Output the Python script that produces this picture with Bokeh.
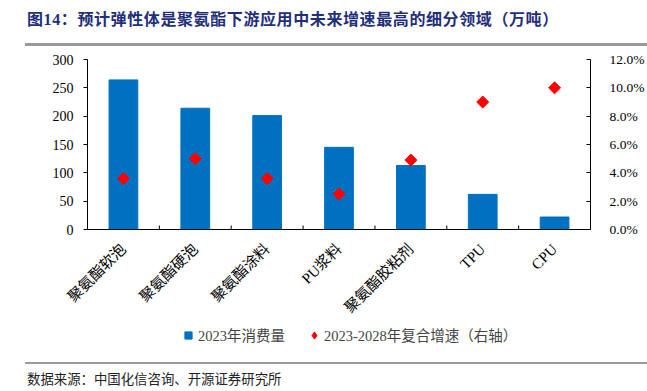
import math
from bokeh.plotting import figure
from bokeh.models import (Range1d, FactorRange, LinearAxis, Legend, LegendItem, Div,
                          PrintfTickFormatter, FixedTicker)
from bokeh.layouts import column
from bokeh.embed import file_html
from bokeh.resources import INLINE

# ---- data ----
categories = ["聚氨酯软泡", "聚氨酯硬泡", "聚氨酯涂料", "PU浆料", "聚氨酯胶粘剂", "TPU", "CPU"]
consumption_2023 = [264, 214, 201, 145, 113, 62, 22]          # 万吨
cagr_2023_2028 = [3.6, 5.0, 3.6, 2.5, 4.9, 9.0, 10.0]        # %
left_ticks = [0, 50, 100, 150, 200, 250, 300]
right_ticks = [0, 2, 4, 6, 8, 10, 12]
series_names = ["2023年消费量", "2023-2028年复合增速（右轴）"]
title_text = "图14：预计弹性体是聚氨酯下游应用中未来增速最高的细分领域（万吨）"
source_text = "数据来源：中国化信咨询、开源证券研究所"

SERIF = "'Times New Roman', 'Liberation Serif', 'Noto Sans CJK SC', serif"
BLUE = "#0070C0"
RED = "#FF0000"

W = 647
FRAME_H = 170
Y_MAX = 300
LEFT = 87

p = figure(width=W, height=288,
           x_range=FactorRange(*categories, range_padding=0, factor_padding=0),
           y_range=Range1d(0, Y_MAX),
           output_backend="svg", toolbar_location=None, title=None,
           min_border_left=LEFT, min_border_right=54, min_border_top=13, min_border_bottom=105,
           margin=0)
p.extra_y_ranges = {"pct": Range1d(0, 12)}
p.outline_line_color = None
p.xgrid.visible = False
p.ygrid.visible = False
p.background_fill_color = "white"
p.border_fill_color = "white"

p.vbar(x=categories, top=consumption_2023, width=0.4, fill_color=BLUE, line_color=BLUE)
p.scatter(x=categories, y=cagr_2023_2028, marker="square", angle=math.pi / 4, size=8.5,
          fill_color=RED, line_color=RED, y_range_name="pct")

# category boundary ticks (pointing up into the plot)
n = len(categories)
bounds = list(range(1, n))
tick_len = Y_MAX * 4 / FRAME_H
p.segment(x0=bounds, y0=[0] * len(bounds), x1=bounds, y1=[tick_len] * len(bounds),
          line_color="black", line_width=1)

# x axis
xa = p.xaxis[0]
xa.axis_line_color = "black"
xa.major_tick_in = 0
xa.major_tick_out = 0
xa.major_label_orientation = math.pi / 4
xa.major_label_standoff = 17
xa.major_label_text_font = SERIF
xa.major_label_text_font_size = "15px"
xa.major_label_text_color = "black"

# left axis
ya = p.yaxis[0]
ya.ticker = FixedTicker(ticks=left_ticks)
ya.axis_line_color = "black"
ya.major_tick_out = 4
ya.major_tick_in = 0
ya.minor_tick_line_color = None
ya.major_label_standoff = 10
ya.major_label_text_font = SERIF
ya.major_label_text_font_size = "14px"
ya.major_label_text_color = "black"

# right axis
ra = LinearAxis(y_range_name="pct", ticker=FixedTicker(ticks=right_ticks),
                formatter=PrintfTickFormatter(format="%.1f%%"))
ra.axis_line_color = "black"
ra.major_tick_in = 4
ra.major_tick_out = 0
ra.minor_tick_line_color = None
ra.major_label_standoff = 19
ra.major_label_text_font = SERIF
ra.major_label_text_font_size = "13.5px"
ra.major_label_text_color = "black"
p.add_layout(ra, "right")

# ---- legend strip (own small figure so the legend is not clipped) ----
# its frame is aligned with the main plot's frame by the column layout
lf = figure(width=W, height=22, x_range=Range1d(0, 1), y_range=Range1d(0, 1),
            output_backend="svg", toolbar_location=None, title=None,
            x_axis_location=None, y_axis_location=None,
            min_border_left=LEFT, min_border_right=54, min_border_top=0, min_border_bottom=0,
            margin=(-8, 0, 0, 0))
lf.outline_line_color = None
lf.xgrid.visible = False
lf.ygrid.visible = False
lf.background_fill_alpha = 0
lf.border_fill_alpha = 0
# legend-key renderers: one point each, placed outside the visible range
leg_sq = lf.scatter(x=[-5], y=[-5], marker="square", fill_color=BLUE, line_color=BLUE)
leg_dm = lf.scatter(x=[-5], y=[-5], marker="diamond", fill_color=RED, line_color=RED)
legend = Legend(items=[LegendItem(label=series_names[0], renderers=[leg_sq]),
                       LegendItem(label=series_names[1], renderers=[leg_dm])],
                location=(179 - LEFT, 3), orientation="horizontal",
                glyph_width=18, glyph_height=18, label_standoff=1, spacing=20,
                padding=0, margin=0, border_line_color=None, background_fill_alpha=0,
                label_text_font=SERIF, label_text_font_size="14.5px", label_height=18)
lf.add_layout(legend)

title_html = (
    '<div style="position:relative;width:647px;height:46px;">'
    '<div style="position:absolute;left:27px;top:10px;white-space:nowrap;'
    "font-family:'Times New Roman','Liberation Serif','Noto Sans CJK SC',serif;"
    'font-weight:bold;font-size:16px;line-height:20px;letter-spacing:0.6px;color:#1F2F7A;">'
    f'{title_text}</div>'
    '<div style="position:absolute;left:25px;top:43px;width:622px;height:3px;background:#9A9A9A;"></div>'
    '</div>')
footer_html = (
    '<div style="position:relative;width:647px;height:43px;">'
    '<div style="position:absolute;left:25px;top:14px;width:622px;height:2px;background:#9A9A9A;"></div>'
    '<div style="position:absolute;left:27px;top:22px;white-space:nowrap;'
    "font-family:'Noto Sans CJK SC',sans-serif;font-size:13.4px;line-height:16px;color:#222;\">"
    f'{source_text}</div>'
    '</div>')

title_div = Div(text=title_html, width=W, height=46, margin=0)
footer_div = Div(text=footer_html, width=W, height=43, margin=0)

layout = column(title_div, p, lf, footer_div, spacing=0, margin=0)
open("out.html", "w").write(file_html(layout, INLINE))
